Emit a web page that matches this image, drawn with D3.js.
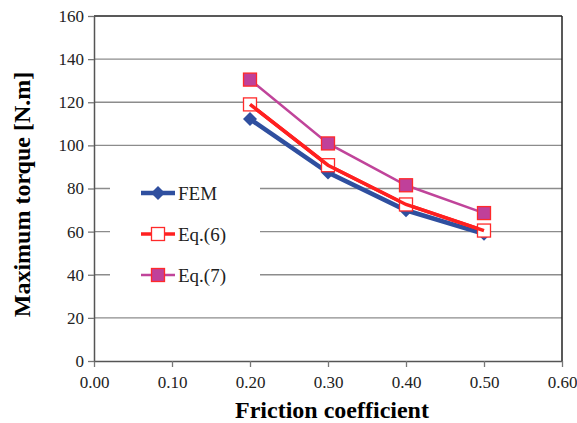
<!DOCTYPE html>
<html>
<head>
<meta charset="utf-8">
<script src="https://cdn.jsdelivr.net/npm/d3@7"></script>
<style>
  body { margin: 0; background: #fff; }
</style>
</head>
<body>
<svg id="chart" width="577" height="423"></svg>
<script>
// data
var frictions = [0.20, 0.30, 0.40, 0.50];
var femValues = [112.2, 87.4, 69.9, 59.0];
var eq6Values = [119.0, 90.8, 72.6, 60.5];
var eq7Values = [130.5, 100.9, 81.5, 68.6];
var xTicks = [0, 0.1, 0.2, 0.3, 0.4, 0.5, 0.6];
var yTicks = [0, 20, 40, 60, 80, 100, 120, 140, 160];

var serif = "'Times New Roman', 'Liberation Serif', 'DejaVu Serif', serif";

var series = [
    {"name": "FEM", "values": femValues, "color": "#2f4f9f", "width": 4.5, "marker": "diamond"},
    {"name": "Eq.(6)", "values": eq6Values, "color": "#ff2020", "width": 3.5, "marker": "open"},
    {"name": "Eq.(7)", "values": eq7Values, "color": "#c0449a", "width": 2.5, "marker": "filled"}
];

var margin = {left: 94, right: 15, top: 16, bottom: 62};
var width = 577 - margin.left - margin.right;
var height = 423 - margin.top - margin.bottom;

var svg = d3.select("#chart").style("font-family", serif);
var g = svg.append("g").attr("transform", "translate(" + margin.left + "," + margin.top + ")");

var x = d3.scaleLinear().domain([0, 0.6]).range([0, width]);
var y = d3.scaleLinear().domain([0, 160]).range([height, 0]);

/***** Gridlines *****/
g.append("g").selectAll("line")
    .data(yTicks.slice(1))
    .enter().append("line")
    .attr("x1", 0).attr("x2", width)
    .attr("y1", function(d) { return y(d); })
    .attr("y2", function(d) { return y(d); })
    .attr("stroke", d => d == 160 ? "#222" : "#8c8c8c")
    .attr("stroke-width", 1.3);

// right border
g.append("line")
    .attr("x1", width).attr("x2", width)
    .attr("y1", 0).attr("y2", height)
    .attr("stroke", "#222").attr("stroke-width", 1.5);

/***** Axes *****/
var xAxis = d3.axisBottom(x).tickValues(xTicks).tickSize(6).tickSizeOuter(0)
    .tickFormat(d3.format(".2f"));
var yAxis = d3.axisLeft(y).tickValues(yTicks).tickSize(6).tickSizeOuter(0);

var gx = g.append("g").attr("transform", "translate(0," + height + ")").call(xAxis);
var gy = g.append("g").call(yAxis);

[gx, gy].forEach(function(a) {
    a.attr("font-family", null).attr("font-size", null);
    a.select(".domain").attr("stroke", "#555").attr("stroke-width", 1.5);
    a.selectAll(".tick line").attr("stroke", "#777").attr("stroke-width", 1.3);
    a.selectAll("text")
        .style("font-family", serif)
        .style("font-size", "17px")
        .attr("fill", "#222");
});
gx.selectAll("text").attr("dy", "1.05em");
gy.selectAll("text").attr("x", -10);

/***** Axis titles *****/
svg.append("text")
    .attr("x", margin.left + width / 2 + 4)
    .attr("y", 418)
    .attr("text-anchor", "middle")
    .style("font-family", serif)
    .style("font-size", "24px")
    .style("font-weight", "bold")
    .text("Friction coefficient");

svg.append("text")
    .attr("transform", "translate(30," + (margin.top + height / 2 + 6) + ") rotate(-90)")
    .attr("text-anchor", "middle")
    .style("font-family", serif)
    .style("font-size", "24px")
    .style("font-weight", "bold")
    .text("Maximum torque [N.m]");

/***** Legend background *****/
var legend = g.append("g");
legend.append("rect")
    .attr("x", 110 - margin.left).attr("y", 160 - margin.top)
    .attr("width", 150).attr("height", 140)
    .attr("fill", "#fff");

/***** Lines *****/
var line = d3.line()
    .x(function(d, i) { return x(frictions[i]); })
    .y(function(d) { return y(d); });

function drawMarker(sel, s, cx, cy) {
    if (s.marker == "diamond") {
        var r = 7;
        sel.append("path")
            .attr("d", "M" + cx + "," + (cy - r) + "L" + (cx + r) + "," + cy +
                       "L" + cx + "," + (cy + r) + "L" + (cx - r) + "," + cy + "Z")
            .attr("fill", s.color);
    } else {
        sel.append("rect")
            .attr("x", cx - 6.5).attr("y", cy - 6.5)
            .attr("width", 13).attr("height", 13)
            .attr("fill", s.marker == "open" ? "#fff" : "#c0409a")
            .attr("stroke", "#ff2a2a")
            .attr("stroke-width", 1.3);
    }
}

series.forEach(function(s) {
    g.append("path")
        .datum(s.values)
        .attr("fill", "none")
        .attr("stroke", s.color)
        .attr("stroke-width", s.width)
        .attr("d", line);
});

// markers: open squares sit under the red line
series.forEach(function(s) {
    var mg = g.append("g");
    s.values.forEach(function(v, i) {
        drawMarker(mg, s, x(frictions[i]), y(v));
    });
    if (s.marker == "open") {
        g.append("path")
            .datum(s.values)
            .attr("fill", "none")
            .attr("stroke", s.color)
            .attr("stroke-width", s.width)
            .attr("d", line);
    }
});

/***** Legend entries *****/
series.forEach(function(s, i) {
    var ly = 193 + i * 41 - margin.top;
    var lx0 = 141 - margin.left, lx1 = 175 - margin.left;
    legend.append("line")
        .attr("x1", lx0).attr("x2", lx1)
        .attr("y1", ly).attr("y2", ly)
        .attr("stroke", s.color).attr("stroke-width", s.width);
    drawMarker(legend, s, (lx0 + lx1) / 2, ly);
    legend.append("text")
        .attr("x", 178 - margin.left)
        .attr("y", ly)
        .attr("dy", "0.35em")
        .style("font-family", serif)
        .style("font-size", "19px")
        .attr("fill", "#222")
        .text(s.name);
});
</script>
</body>
</html>
